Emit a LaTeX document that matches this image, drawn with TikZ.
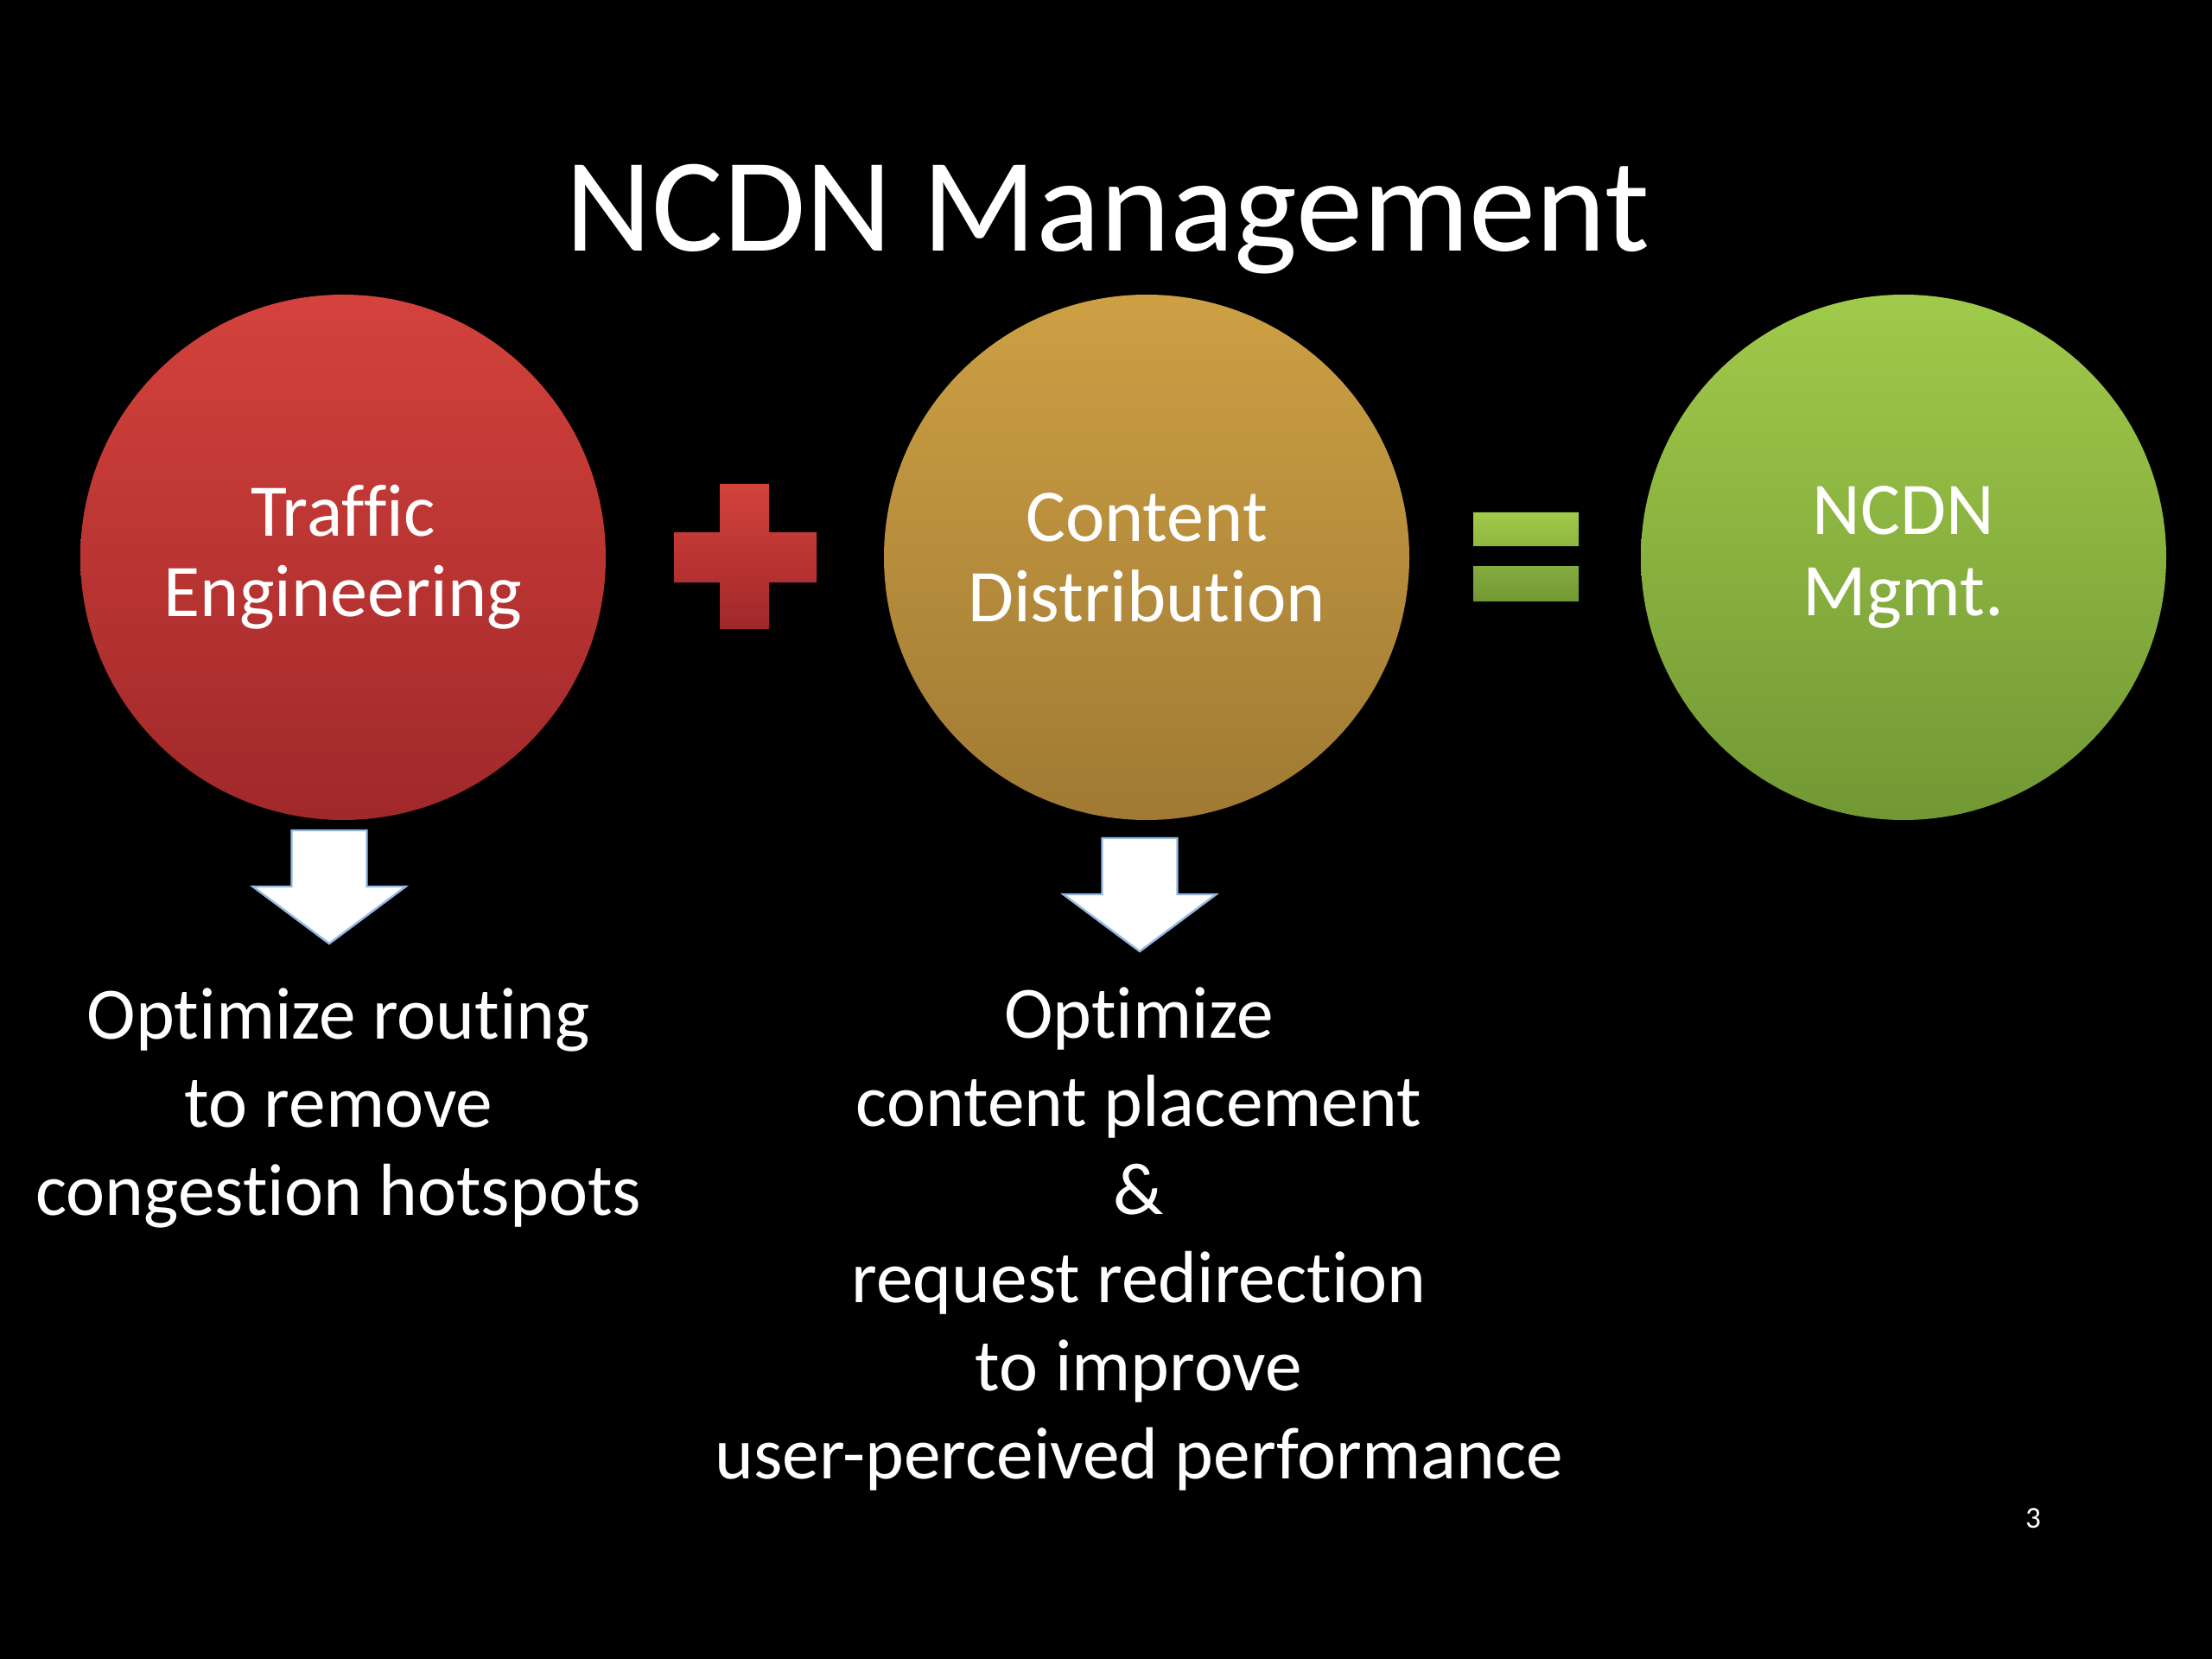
\documentclass[tikz,border=0pt]{standalone}
\usepackage{fontspec}
\setmainfont{Carlito}[Ligatures=NoCommon]
\usetikzlibrary{positioning}
\definecolor{teTop}{RGB}{212,66,60}
\definecolor{teBot}{RGB}{160,40,42}
\definecolor{cdTop}{RGB}{205,160,68}
\definecolor{cdBot}{RGB}{160,122,52}
\definecolor{nmTop}{RGB}{160,202,74}
\definecolor{nmBot}{RGB}{114,152,52}
\definecolor{arrowEdge}{RGB}{150,185,225}
\tikzset{node distance=2.5cm,
bubble/.style={ % Sets the properties for each circle
circle, minimum size=6.08cm, inner sep=0pt,
text=white, align=center,
font=\fontsize{24.5}{26.5}\selectfont},
goal/.style={ % Text under the arrows
text=white, align=center, inner sep=0pt,
font=\fontsize{24.3}{29}\selectfont},
downarrow/.style={ % White block arrows
fill=white, draw=arrowEdge, line width=0.7pt}}

\begin{document}
\begin{tikzpicture}
\fill[black] (0,0) rectangle (25.6,-19.2);
\node[text=white, font=\fontsize{44}{48}\selectfont, anchor=base] (title) at (12.82,-2.91) {NCDN Management};
\node[bubble, top color=teTop, bottom color=teBot] (te) at (3.97,-6.45) {Traffic\\Engineering};
\node[bubble, top color=cdTop, bottom color=cdBot] (cd) at (13.27,-6.45) {Content\\Distribution};
\node[bubble, top color=nmTop, bottom color=nmBot] (nm) at (22.03,-6.45) {NCDN\\Mgmt.};
% plus sign
\shade[top color=teTop, bottom color=teBot] (8.33,-5.60) -- (8.90,-5.60) -- (8.90,-6.16) -- (9.45,-6.16) -- (9.45,-6.74) -- (8.90,-6.74) -- (8.90,-7.28) -- (8.33,-7.28) -- (8.33,-6.74) -- (7.80,-6.74) -- (7.80,-6.16) -- (8.33,-6.16) -- cycle;
% equals sign
\shade[top color=nmTop, bottom color=nmBot] (17.05,-5.93) rectangle (18.27,-6.32) (17.05,-6.55) rectangle (18.27,-6.96);
% arrows
\foreach \x/\y in {3.81/-9.61, 13.19/-9.70}
  \draw[downarrow] (\x-0.435,\y) -- ++(0.87,0) -- ++(0,-0.65) -- ++(0.45,0) -- (\x,\y-1.31) -- (\x-0.885,\y-0.65) -- ++(0.45,0) -- cycle;
\node[goal, anchor=base] (routing) at (3.92,-14.06) {Optimize routing\\to remove\\congestion hotspots};
\node[goal, anchor=base] (placement) at (13.18,-17.11) {Optimize\\content placement\\\&\\request redirection\\to improve\\user-perceived performance};
\node[text=white, font=\fontsize{10}{12}\selectfont, anchor=base] (page) at (23.53,-17.68) {3};
\end{tikzpicture}
\end{document}
